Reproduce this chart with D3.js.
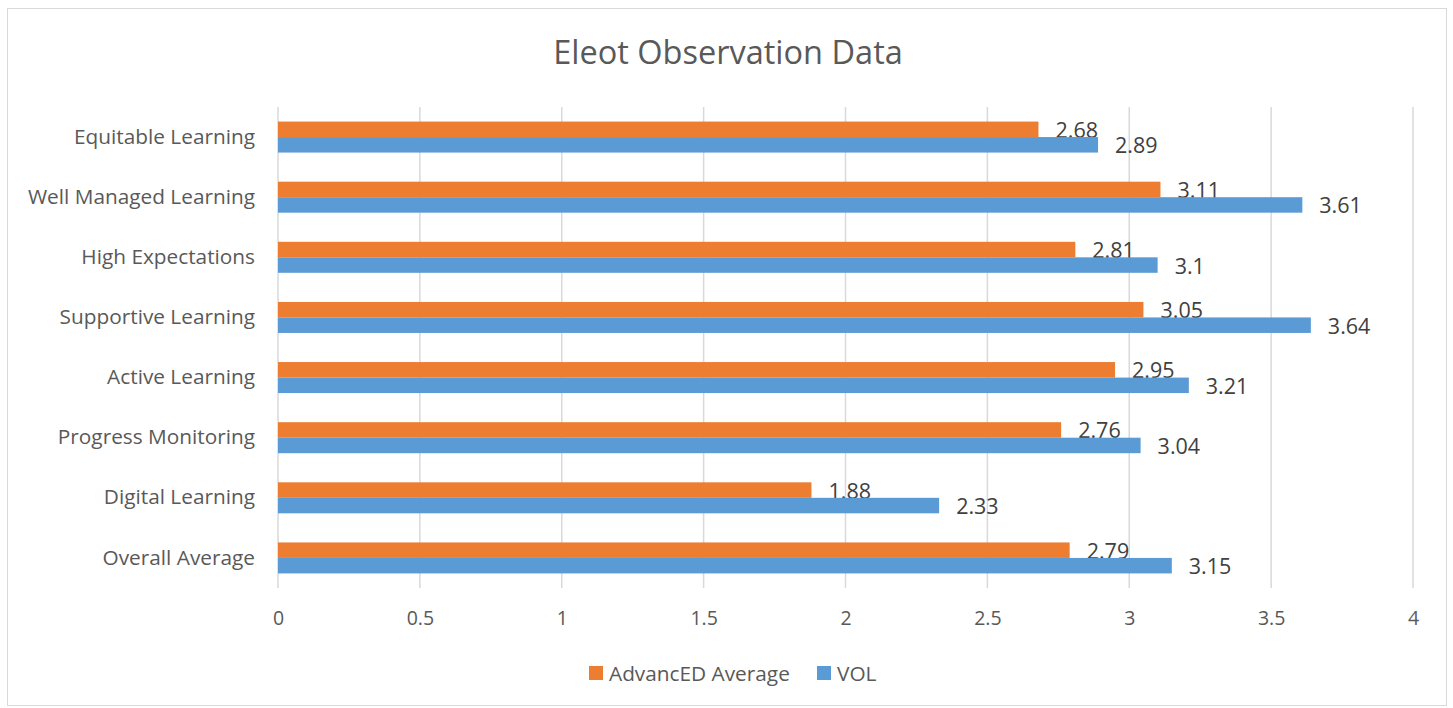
<!DOCTYPE html>
<html><head><meta charset="utf-8">
<script src="https://cdn.jsdelivr.net/npm/d3@7"></script>
<style>
body{margin:0;background:#fff;}
svg{display:block;font-family:"Open Sans",sans-serif;}
</style></head>
<body><svg id="chart" width="1453" height="708"></svg>
<script>
const categories = ["Equitable Learning","Well Managed Learning","High Expectations","Supportive Learning","Active Learning","Progress Monitoring","Digital Learning","Overall Average"];
const advancedAvg = [2.68,3.11,2.81,3.05,2.95,2.76,1.88,2.79];
const vol = [2.89,3.61,3.1,3.64,3.21,3.04,2.33,3.15];
const seriesNames = ["AdvancED Average","VOL"];
const seriesColors = ["#ED7D31","#5B9BD5"];
const xTicks = [0,0.5,1,1.5,2,2.5,3,3.5,4];

const svg = d3.select("#chart");
svg.append("rect").attr("x",7.5).attr("y",8.5).attr("width",1439).attr("height",697)
  .attr("fill","#fff").attr("stroke","#d9d9d9").attr("stroke-width",1);

svg.append("text").attr("x",728).attr("y",64).attr("text-anchor","middle")
  .attr("font-size",32.5).attr("fill","#595959").text("Eleot Observation Data");

const x = d3.scaleLinear().domain([0,4]).range([278,1413]);
const y = d3.scaleBand().domain(categories).range([107,588]);
const inner = d3.scaleBand().domain(seriesNames).range([0,31]);
const bandOff = (y.bandwidth()-31)/2;

// gridlines
svg.append("g").selectAll("line").data(xTicks).join("line")
  .attr("x1",d=>x(d)).attr("x2",d=>x(d)).attr("y1",107).attr("y2",588)
  .attr("stroke","#d9d9d9").attr("stroke-width",1.5);

// x tick labels
const xAxis = svg.append("g").attr("transform","translate(0,588)")
  .call(d3.axisBottom(x).tickValues(xTicks).tickSize(0).tickPadding(23).tickFormat(d3.format("")));
xAxis.select(".domain").remove();
xAxis.selectAll("text").attr("font-size",19.5).attr("fill","#595959").attr("font-family","Open Sans");

// y labels
const yAxis = svg.append("g").attr("transform","translate(278,0)")
  .call(d3.axisLeft(y).tickSize(0).tickPadding(23));
yAxis.select(".domain").remove();
yAxis.selectAll("text").attr("font-size",20.8).attr("fill","#595959").attr("font-family","Open Sans");

const rows = categories.map((c,i)=>({c, vals:[advancedAvg[i], vol[i]]}));
const g = svg.append("g");
rows.forEach(r=>{
  r.vals.forEach((v,j)=>{
    const s = seriesNames[j];
    const yy = y(r.c)+bandOff+inner(s);
    g.append("rect").attr("x",x(0)).attr("y",yy).attr("width",x(v)-x(0)).attr("height",inner.bandwidth())
      .attr("fill",seriesColors[j]);
    g.append("text").attr("x",x(v)+17).attr("y",yy+inner.bandwidth()/2+8.5)
      .attr("font-size",21.5).attr("fill","#404040").text(v);
  });
});

// legend
const legend = svg.append("g");
const lx = [589, 817];
seriesNames.forEach((s,i)=>{
  legend.append("rect").attr("x",lx[i]).attr("y",666).attr("width",14).attr("height",14).attr("fill",seriesColors[i]);
  legend.append("text").attr("x",lx[i]+20).attr("y",680.5).attr("font-size",20.8).attr("fill","#595959").text(s);
});
</script></body></html>
